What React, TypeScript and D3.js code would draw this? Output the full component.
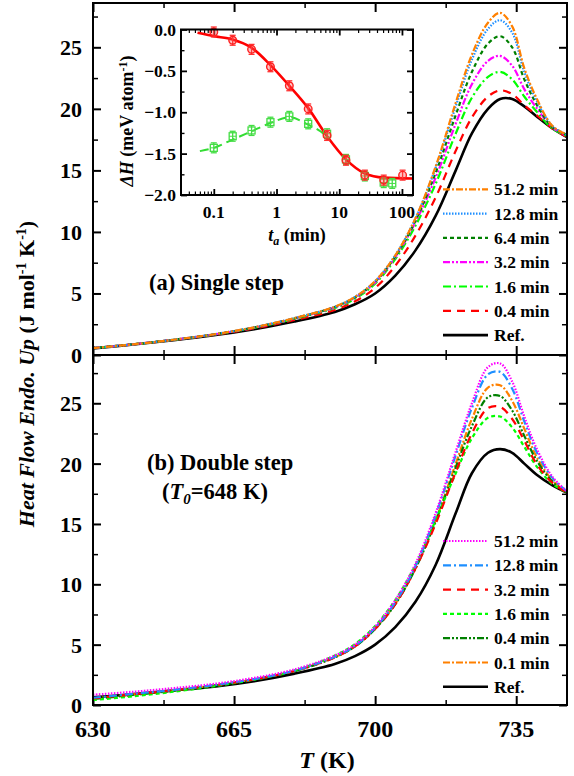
import React, { useEffect, useRef } from "react";
import * as d3 from "d3";

// temperature grid (K) the curves were read at
const temps = [630, 640, 650, 660, 670, 680, 690, 695, 700, 705, 710, 715, 720, 724, 728, 731, 734, 737, 740, 744, 747.6];

// (a) single step
const topLabels = ["51.2 min", "12.8 min", "6.4 min", "3.2 min", "1.6 min", "0.4 min", "Ref."];
const topMin512 = [0.56, 0.87, 1.24, 1.68, 2.25, 3.0, 3.92, 4.72, 6.0, 8.1, 11.1, 15.3, 20.5, 24.4, 27.0, 27.8, 26.7, 23.3, 20.9, 18.6, 17.9];
const topMin128 = [0.56, 0.87, 1.24, 1.68, 2.25, 3.0, 3.92, 4.72, 6.0, 8.1, 11.1, 15.2, 20.2, 24.0, 26.5, 27.2, 26.2, 23.0, 20.7, 18.6, 17.9];
const topMin64 = [0.56, 0.87, 1.24, 1.68, 2.24, 2.98, 3.9, 4.68, 5.95, 8.0, 10.9, 14.8, 19.5, 23.0, 25.3, 25.9, 25.0, 22.4, 20.4, 18.5, 17.9];
const topMin32 = [0.56, 0.87, 1.24, 1.67, 2.23, 2.97, 3.87, 4.65, 5.9, 7.95, 10.8, 14.4, 18.8, 22.0, 23.9, 24.3, 23.5, 21.6, 20.1, 18.5, 17.8];
const topMin16 = [0.55, 0.86, 1.23, 1.66, 2.21, 2.94, 3.82, 4.57, 5.8, 7.8, 10.5, 13.9, 18.0, 20.9, 22.6, 23.0, 22.4, 21.0, 19.8, 18.4, 17.8];
const topMin04 = [0.55, 0.86, 1.22, 1.63, 2.16, 2.84, 3.66, 4.36, 5.45, 7.25, 9.7, 12.8, 16.6, 19.3, 21.0, 21.5, 21.2, 20.3, 19.5, 18.4, 17.7];
const topRef = [0.54, 0.85, 1.2, 1.6, 2.1, 2.72, 3.5, 4.12, 5.0, 6.45, 8.5, 11.3, 15.0, 18.0, 20.0, 20.8, 20.8, 20.2, 19.4, 18.4, 17.7];
const topValues = [topMin512, topMin128, topMin64, topMin32, topMin16, topMin04, topRef];

// (b) double step, T0 = 648 K
const botLabels = ["51.2 min", "12.8 min", "3.2 min", "1.6 min", "0.4 min", "0.1 min", "Ref."];
const botMin512 = [0.85, 1.1, 1.4, 1.75, 2.25, 2.95, 4.1, 5.0, 6.5, 8.7, 11.7, 15.9, 21.0, 25.0, 28.0, 28.3, 26.8, 23.9, 21.3, 18.9, 17.7];
const botMin128 = [0.6, 0.92, 1.25, 1.65, 2.15, 2.85, 4.0, 4.9, 6.4, 8.5, 11.5, 15.7, 20.7, 24.6, 27.4, 27.6, 26.2, 23.5, 21.0, 18.8, 17.7];
const botMin32 = [0.55, 0.88, 1.22, 1.62, 2.12, 2.82, 3.95, 4.85, 6.3, 8.35, 11.3, 15.0, 19.3, 22.5, 24.6, 24.7, 23.7, 21.9, 20.0, 18.4, 17.6];
const botMin16 = [0.41, 0.72, 1.1, 1.55, 2.1, 2.85, 4.1, 5.05, 6.55, 8.7, 11.6, 15.3, 19.2, 22.1, 23.8, 23.9, 23.0, 21.4, 19.8, 18.3, 17.6];
const botMin04 = [0.5, 0.83, 1.18, 1.6, 2.1, 2.8, 3.95, 4.85, 6.3, 8.35, 11.3, 15.2, 19.7, 23.1, 25.5, 25.6, 24.4, 22.3, 20.3, 18.5, 17.6];
const botMin01 = [0.55, 0.88, 1.22, 1.63, 2.13, 2.83, 3.97, 4.9, 6.35, 8.4, 11.4, 15.3, 20.0, 23.7, 26.3, 26.5, 25.2, 22.9, 20.6, 18.6, 17.6];
const botRef = [0.63, 0.9, 1.2, 1.52, 1.98, 2.6, 3.4, 4.05, 5.0, 6.45, 8.55, 11.6, 15.9, 19.2, 20.9, 21.2, 20.9, 20.0, 19.1, 18.2, 17.6];
const botValues = [botMin512, botMin128, botMin32, botMin16, botMin04, botMin01, botRef];

// inset: enthalpy change vs annealing time
const singleTimes = [0.1, 0.2, 0.4, 0.8, 1.6, 3.2, 6.4, 12.8, 25.6, 51.2, 102.4];
const singleDH = [-0.03, -0.13, -0.24, -0.45, -0.68, -0.96, -1.28, -1.58, -1.76, -1.82, -1.76];
const doubleTimes = [0.1, 0.2, 0.4, 0.8, 1.6, 3.2, 6.4, 12.8, 25.6, 51.2, 70];
const doubleDH = [-1.43, -1.29, -1.22, -1.12, -1.05, -1.14, -1.26, -1.57, -1.77, -1.85, -1.86];
const singleFitT = [0.055, 0.1, 0.2, 0.4, 0.8, 1.6, 3.2, 6.4, 12.8, 25.6, 51.2, 150];
const singleFit = [-0.04, -0.08, -0.12, -0.22, -0.43, -0.68, -0.95, -1.29, -1.57, -1.74, -1.79, -1.8];
const doubleFitT = [0.06, 0.1, 0.2, 0.4, 0.8, 1.6, 3.2, 5, 6.4];
const doubleFit = [-1.47, -1.43, -1.33, -1.23, -1.13, -1.06, -1.15, -1.23, -1.3];

const yTicks = [0, 5, 10, 15, 20, 25];
const xTicks = [630, 665, 700, 735];

const FONT = "'Liberation Serif', 'Times New Roman', serif";

const topColors = ["#ff8000", "#1e8fff", "#008000", "#ff00ff", "#00ff00", "#ff0000", "#000000"];
const topDashes = ["7,2,2,2", "1.5,1.5", "4,3", "7,2,2,2,2,2", "8,3,2,3", "8,6", null];
const botColors = ["#ff00ff", "#1e8fff", "#ff0000", "#00ff00", "#008000", "#ff8000", "#000000"];
const botDashes = ["1.5,1.5", "8,3,2,3", "8,6", "4,3", "7,2,2,2,2,2", "7,2,2,2", null];

const App = () => {
  const ref = useRef<SVGSVGElement>(null);

  useEffect(() => {
    const svg = d3.select(ref.current);
    svg.selectAll("*").remove();

    const x = d3.scaleLinear().domain([630, 747.6]).range([93, 567]);
    const yTop = d3.scaleLinear().domain([0, 28.6]).range([355, 3]);
    const yBot = d3.scaleLinear().domain([0, 29]).range([705, 355]);

    const tickAxis = (g, axis, vals, size, w) => {
      g.call(axis.tickValues(vals).tickSize(size).tickFormat(() => ""));
      g.select(".domain").remove();
      g.selectAll("line").attr("stroke", "#000").attr("stroke-width", w);
    };

    const panel = (y, values, colors, dashes, labels, legendTop) => {
      const g = svg.append("g");
      const [y0, y1] = y.range();
      const minorY = [2.5, 7.5, 12.5, 17.5, 22.5, 27.5];
      const minorX = [647.5, 682.5, 717.5];

      tickAxis(g.append("g").attr("transform", "translate(93,0)"), d3.axisLeft(y), yTicks, -8, 2);
      tickAxis(g.append("g").attr("transform", "translate(93,0)"), d3.axisLeft(y), minorY, -5, 1.5);
      tickAxis(g.append("g").attr("transform", "translate(567,0)"), d3.axisRight(y), yTicks, -8, 2);
      tickAxis(g.append("g").attr("transform", "translate(567,0)"), d3.axisRight(y), minorY, -5, 1.5);
      tickAxis(g.append("g").attr("transform", `translate(0,${y0})`), d3.axisBottom(x), xTicks, -9, 2);
      tickAxis(g.append("g").attr("transform", `translate(0,${y0})`), d3.axisBottom(x), minorX, -5, 1.5);
      tickAxis(g.append("g").attr("transform", `translate(0,${y1})`), d3.axisTop(x), xTicks, -9, 2);
      tickAxis(g.append("g").attr("transform", `translate(0,${y1})`), d3.axisTop(x), minorX, -5, 1.5);

      g.selectAll(".ylab")
        .data(yTicks)
        .enter()
        .append("text")
        .attr("x", 82)
        .attr("y", (d) => y(d) + 8)
        .attr("text-anchor", "end")
        .style("font-family", FONT)
        .style("font-size", "22px")
        .style("font-weight", "bold")
        .text((d) => d);

      const line = d3
        .line<number>()
        .x((d, i) => x(temps[i]))
        .y((d) => y(d))
        .curve(d3.curveCatmullRom.alpha(0.5));

      // draw ref first, then the rest on top
      const order = values.map((v, i) => i).reverse();
      order.forEach((i) => {
        g.append("path")
          .datum(values[i])
          .attr("fill", "none")
          .attr("stroke", colors[i])
          .attr("stroke-width", i === values.length - 1 ? 2.6 : 2.2)
          .attr("stroke-dasharray", dashes[i])
          .attr("d", line);
      });

      labels.forEach((lab, i) => {
        const ly = legendTop + i * 24.3;
        g.append("line")
          .attr("x1", 443)
          .attr("x2", 488)
          .attr("y1", ly)
          .attr("y2", ly)
          .attr("stroke", colors[i])
          .attr("stroke-width", i === labels.length - 1 ? 2.6 : 2.2)
          .attr("stroke-dasharray", dashes[i]);
        g.append("text")
          .attr("x", 494)
          .attr("y", ly + 6)
          .style("font-family", FONT)
          .style("font-size", "17.5px")
          .style("font-weight", "bold")
          .text(lab);
      });

      g.append("rect")
        .attr("x", 93)
        .attr("y", y1)
        .attr("width", 567 - 93)
        .attr("height", y0 - y1)
        .attr("fill", "none")
        .attr("stroke", "#000")
        .attr("stroke-width", 2);
    };

    panel(yTop, topValues, topColors, topDashes, topLabels, 189.3);
    panel(yBot, botValues, botColors, botDashes, botLabels, 541);

    svg
      .selectAll(".xlab")
      .data(xTicks)
      .enter()
      .append("text")
      .attr("x", (d) => x(d))
      .attr("y", 737)
      .attr("text-anchor", "middle")
      .style("font-family", FONT)
      .style("font-size", "24px")
      .style("font-weight", "bold")
      .text((d) => d);

    // axis titles
    const xt = svg
      .append("text")
      .attr("x", 327)
      .attr("y", 768)
      .attr("text-anchor", "middle")
      .style("font-family", FONT)
      .style("font-size", "24px")
      .style("font-weight", "bold");
    xt.append("tspan").style("font-style", "italic").text("T");
    xt.append("tspan").text(" (K)");

    const yt = svg
      .append("text")
      .attr("transform", "translate(34,374) rotate(-90)")
      .attr("text-anchor", "middle")
      .style("font-family", FONT)
      .style("font-size", "22px")
      .style("font-weight", "bold");
    yt.append("tspan").style("font-style", "italic").text("Heat Flow Endo. Up");
    yt.append("tspan").text(" (J mol");
    yt.append("tspan").attr("dy", -8).style("font-size", "14px").text("-1");
    yt.append("tspan").attr("dy", 8).text(" K");
    yt.append("tspan").attr("dy", -8).style("font-size", "14px").text("-1");
    yt.append("tspan").attr("dy", 8).text(")");

    // panel annotations
    const note = (tx, ty) =>
      svg
        .append("text")
        .attr("x", tx)
        .attr("y", ty)
        .style("font-family", FONT)
        .style("font-size", "22.5px")
        .style("font-weight", "bold");
    note(149, 290).text("(a) Single step");
    note(147, 470).text("(b) Double step");
    const t0 = note(162, 499);
    t0.append("tspan").text("(");
    t0.append("tspan").style("font-style", "italic").text("T");
    t0.append("tspan").attr("dy", 5).style("font-size", "15px").style("font-style", "italic").text("0");
    t0.append("tspan").attr("dy", -5).text("=648 K)");

    // inset
    const xi = d3.scaleLog().domain([0.03, 150]).range([181, 413]);
    const yi = d3.scaleLinear().domain([-2, 0]).range([195, 29.5]);
    const ins = svg.append("g");
    const iTicksY = [-2, -1.5, -1, -0.5, 0];
    const iMinorY = [-1.75, -1.25, -0.75, -0.25];
    const iTicksX = [0.1, 1, 10, 100];
    const iMinorX = [];
    [0.01, 0.1, 1, 10, 100].forEach((dec) => {
      for (let k = 2; k <= 9; k++) {
        const v = dec * k;
        if (v > 0.03 && v < 150) iMinorX.push(v);
      }
    });

    tickAxis(ins.append("g").attr("transform", "translate(181,0)"), d3.axisLeft(yi), iTicksY, -6, 1.8);
    tickAxis(ins.append("g").attr("transform", "translate(181,0)"), d3.axisLeft(yi), iMinorY, -3.5, 1.4);
    tickAxis(ins.append("g").attr("transform", "translate(413,0)"), d3.axisRight(yi), iTicksY, -6, 1.8);
    tickAxis(ins.append("g").attr("transform", "translate(413,0)"), d3.axisRight(yi), iMinorY, -3.5, 1.4);
    tickAxis(ins.append("g").attr("transform", "translate(0,195)"), d3.axisBottom(xi), iTicksX, -6, 1.8);
    tickAxis(ins.append("g").attr("transform", "translate(0,195)"), d3.axisBottom(xi), iMinorX, -3.5, 1.2);
    tickAxis(ins.append("g").attr("transform", "translate(0,29.5)"), d3.axisTop(xi), iTicksX, -6, 1.8);
    tickAxis(ins.append("g").attr("transform", "translate(0,29.5)"), d3.axisTop(xi), iMinorX, -3.5, 1.2);

    ins
      .selectAll(".iyl")
      .data(iTicksY)
      .enter()
      .append("text")
      .attr("x", 176)
      .attr("y", (d) => yi(d) + 6)
      .attr("text-anchor", "end")
      .style("font-family", FONT)
      .style("font-size", "17.5px")
      .style("font-weight", "bold")
      .text((d) => d3.format(".1f")(d));
    ins
      .selectAll(".ixl")
      .data(iTicksX)
      .enter()
      .append("text")
      .attr("x", (d) => xi(d))
      .attr("y", 218)
      .attr("text-anchor", "middle")
      .style("font-family", FONT)
      .style("font-size", "17.5px")
      .style("font-weight", "bold")
      .text((d) => d);

    const ixt = ins
      .append("text")
      .attr("x", 297)
      .attr("y", 241)
      .attr("text-anchor", "middle")
      .style("font-family", FONT)
      .style("font-size", "18px")
      .style("font-weight", "bold");
    ixt.append("tspan").style("font-style", "italic").text("t");
    ixt.append("tspan").attr("dy", 4).style("font-size", "12px").style("font-style", "italic").text("a");
    ixt.append("tspan").attr("dy", -4).text(" (min)");

    const iyt = ins
      .append("text")
      .attr("transform", "translate(133,121) rotate(-90)")
      .attr("text-anchor", "middle")
      .style("font-family", FONT)
      .style("font-size", "18px")
      .style("font-weight", "bold");
    iyt.append("tspan").style("font-style", "italic").text("ΔH");
    iyt.append("tspan").text(" (meV atom");
    iyt.append("tspan").attr("dy", -6).style("font-size", "12px").text("-1");
    iyt.append("tspan").attr("dy", 6).text(")");

    const fitLine = (ts) =>
      d3
        .line<number>()
        .x((d, i) => xi(ts[i]))
        .y((d) => yi(d))
        .curve(d3.curveMonotoneX);

    ins
      .append("path")
      .datum(doubleFit)
      .attr("fill", "none")
      .attr("stroke", "#33dd33")
      .attr("stroke-width", 2)
      .attr("stroke-dasharray", "9,5")
      .attr("d", fitLine(doubleFitT));
    ins
      .append("path")
      .datum(singleFit)
      .attr("fill", "none")
      .attr("stroke", "#ff0000")
      .attr("stroke-width", 2.6)
      .attr("d", fitLine(singleFitT));

    const errBars = (ts, vs, color) => {
      ts.forEach((t, i) => {
        const cx = xi(t);
        const top = yi(vs[i] + 0.06);
        const bot = yi(vs[i] - 0.06);
        ins.append("line").attr("x1", cx).attr("x2", cx).attr("y1", top).attr("y2", bot).attr("stroke", color).attr("stroke-width", 1.3);
        [top, bot].forEach((yy) =>
          ins.append("line").attr("x1", cx - 3).attr("x2", cx + 3).attr("y1", yy).attr("y2", yy).attr("stroke", color).attr("stroke-width", 1.3)
        );
      });
    };

    errBars(doubleTimes, doubleDH, "#44dd44");
    doubleTimes.forEach((t, i) => {
      const cx = xi(t);
      const cy = yi(doubleDH[i]);
      ins.append("rect").attr("x", cx - 3.5).attr("y", cy - 3.5).attr("width", 7).attr("height", 7)
        .attr("fill", "none").attr("stroke", "#44dd44").attr("stroke-width", 1.3);
      ins.append("line").attr("x1", cx - 3.5).attr("x2", cx + 3.5).attr("y1", cy).attr("y2", cy).attr("stroke", "#44dd44").attr("stroke-width", 1);
    });

    errBars(singleTimes, singleDH, "#ff3030");
    ins
      .selectAll(".pt")
      .data(singleTimes)
      .enter()
      .append("circle")
      .attr("cx", (d) => xi(d))
      .attr("cy", (d, i) => yi(singleDH[i]))
      .attr("r", 3.8)
      .attr("fill", "rgba(255,80,80,0.35)")
      .attr("stroke", "#ff2020")
      .attr("stroke-width", 1.4);

    ins
      .append("rect")
      .attr("x", 181)
      .attr("y", 29.5)
      .attr("width", 413 - 181)
      .attr("height", 195 - 29.5)
      .attr("fill", "none")
      .attr("stroke", "#000")
      .attr("stroke-width", 2);
  }, []);

  return (
    <div style={{ position: "absolute", left: 0, top: 0 }}>
      <svg ref={ref} width={574} height={776} style={{ display: "block", background: "#fff" }} />
    </div>
  );
};

export default App;
